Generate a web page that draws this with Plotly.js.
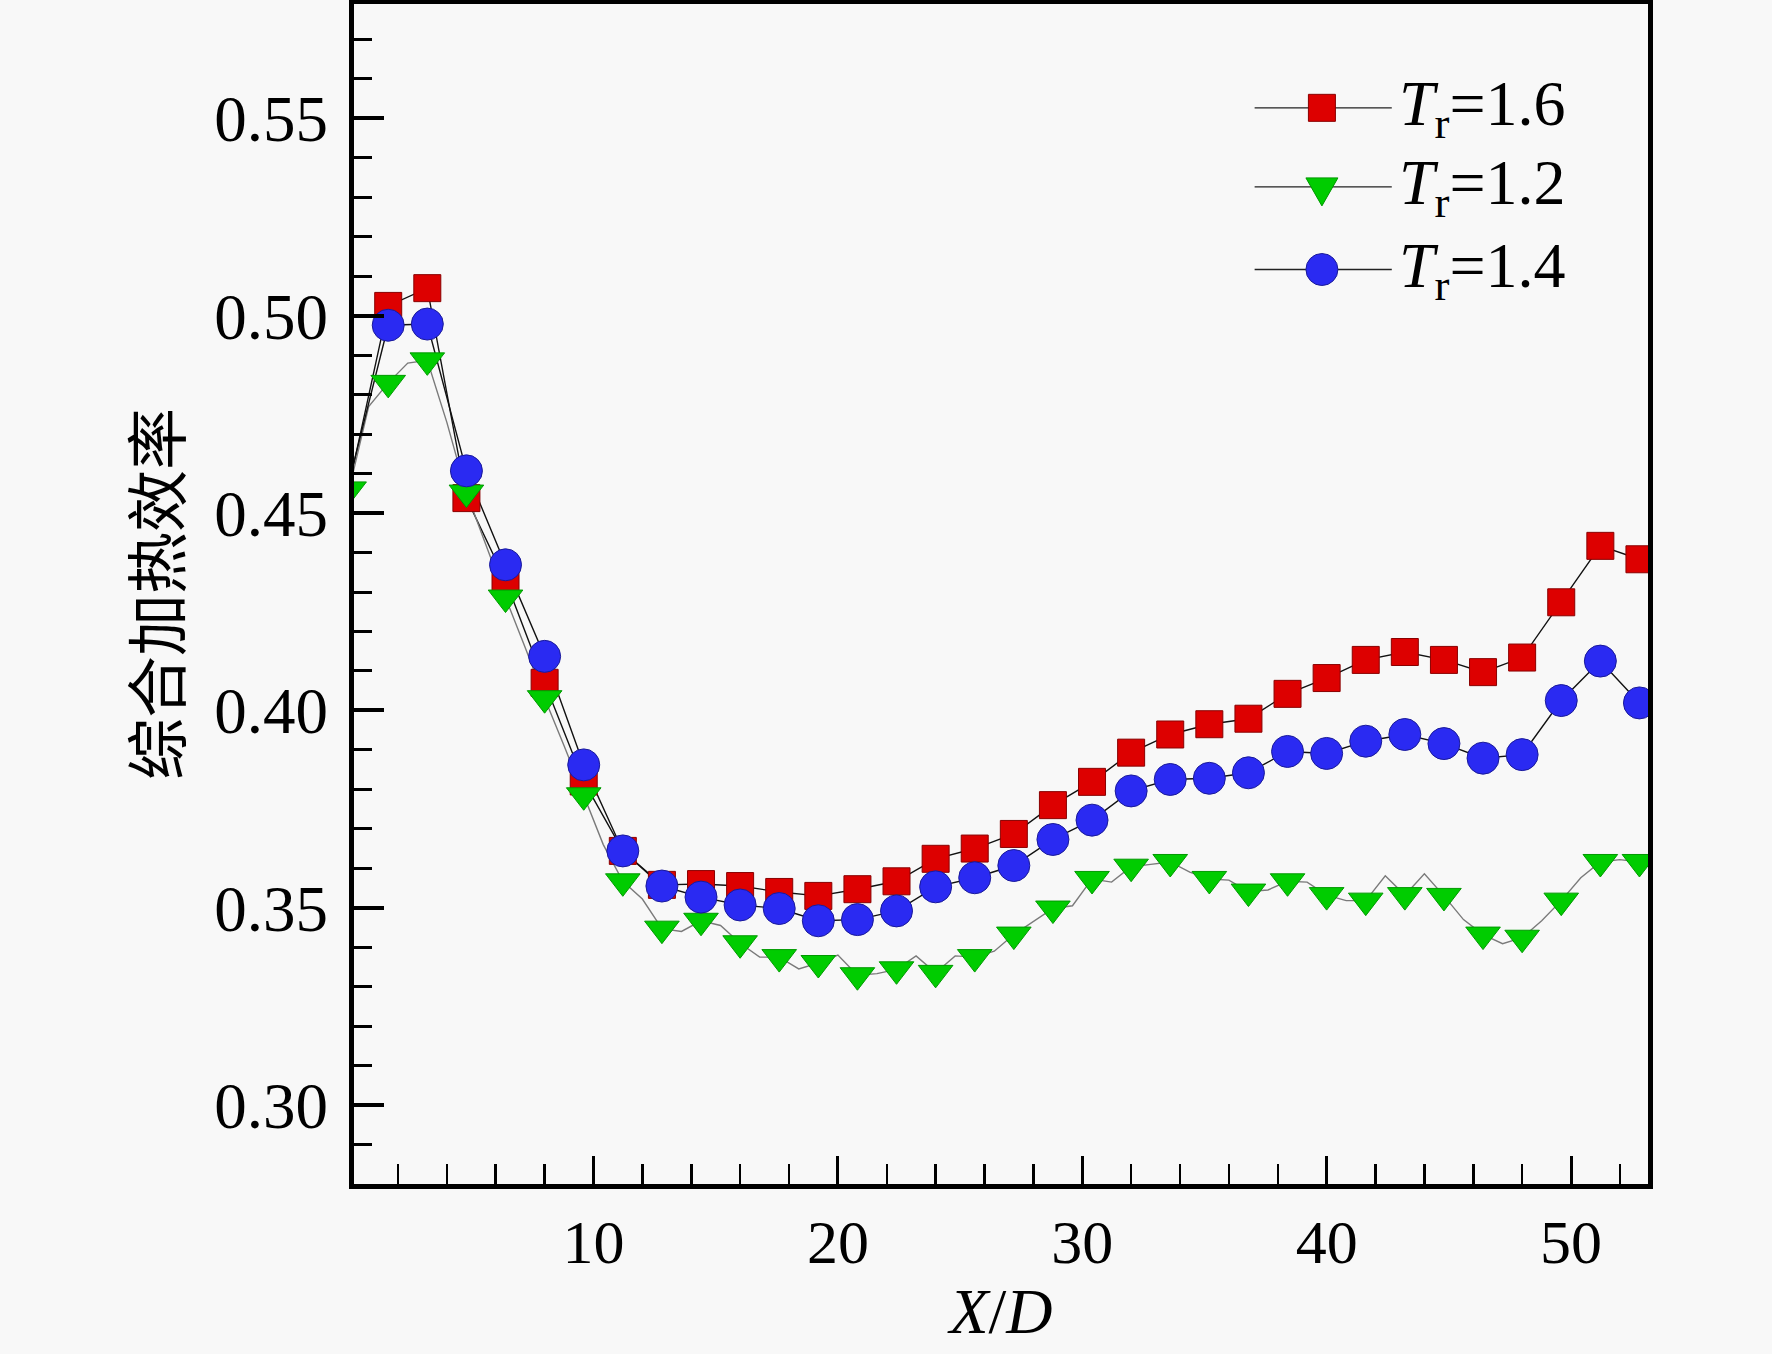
<!DOCTYPE html>
<html>
<head>
<meta charset="utf-8">
<script src="https://cdn.plot.ly/plotly-3.0.1.min.js"></script>
<style>
  html, body { margin: 0; padding: 0; background: #f8f8f8; }
  #plot { width: 1772px; height: 1354px; }
</style>
</head>
<body>
<div id="plot"></div>
<script>
///////////////////////////////////////////////  data  /////////////////////////////////////////////////////////

// X/D where the markers sit
var xMarkers = [1.6, 3.2, 4.8, 6.4, 8.0, 9.6, 11.2, 12.8, 14.4, 16.0, 17.6, 19.2, 20.8, 22.4, 24.0, 25.6,
                27.2, 28.8, 30.4, 32.0, 33.6, 35.2, 36.8, 38.4, 40.0, 41.6, 43.2, 44.8, 46.4, 48.0, 49.6, 51.2, 52.8];
// X/D of the in-between line points (green curve only shows them clearly)
var xMids = [0.8, 2.4, 4.0, 5.6, 7.2, 8.8, 10.4, 12.0, 13.6, 15.2, 16.8, 18.4, 20.0, 21.6, 23.2, 24.8,
             26.4, 28.0, 29.6, 31.2, 32.8, 34.4, 36.0, 37.6, 39.2, 40.8, 42.4, 44.0, 45.6, 47.2, 48.8, 50.4, 52.0];
var xStart = 0;

// Tr = 1.6
var redStart = 0.457;
var redY = [0.5025, 0.507, 0.4538, 0.433, 0.407, 0.382, 0.3644, 0.3558, 0.356, 0.3555, 0.354, 0.353, 0.3547,
            0.3567, 0.3624, 0.365, 0.3687, 0.376, 0.3819, 0.3893, 0.3939, 0.3965, 0.3979, 0.4042, 0.4082,
            0.4128, 0.4148, 0.4128, 0.4097, 0.4134, 0.4274, 0.4417, 0.4383];
// Tr = 1.2
var greenStart = 0.456;
var greenY = [0.483, 0.4887, 0.4552, 0.4286, 0.4031, 0.3785, 0.3567, 0.3447, 0.3467, 0.341, 0.3375, 0.336,
              0.3329, 0.3344, 0.3335, 0.3375, 0.3432, 0.3498, 0.3573, 0.3604, 0.3616, 0.3573, 0.3541, 0.3567,
              0.3532, 0.3518, 0.3532, 0.353, 0.3432, 0.3424, 0.3518, 0.3616, 0.3616];
var greenMidY = [0.477, 0.488, 0.473, 0.442, 0.416, 0.391, 0.366, 0.3522, 0.344, 0.3455, 0.3375, 0.3345,
                 0.338, 0.3333, 0.3378, 0.3378, 0.339, 0.3465, 0.3505, 0.3565, 0.361, 0.359, 0.357, 0.3545,
                 0.3565, 0.3518, 0.3581, 0.3586, 0.347, 0.3409, 0.3467, 0.3576, 0.3622];
// Tr = 1.4
var blueStart = 0.458;
var blueY = [0.4976, 0.4979, 0.4607, 0.4369, 0.4137, 0.3862, 0.3644, 0.3555, 0.3527, 0.3507, 0.3498, 0.3467,
             0.347, 0.3492, 0.3553, 0.3576, 0.3607, 0.3673, 0.3722, 0.3796, 0.3825, 0.3828, 0.3842, 0.3896,
             0.3891, 0.3922, 0.3939, 0.3916, 0.3879, 0.3888, 0.4025, 0.4125, 0.4019];

var legendLabels = ['<i>T</i><sub>r</sub>=1.6', '<i>T</i><sub>r</sub>=1.2', '<i>T</i><sub>r</sub>=1.4'];

///////////////////////////////////////////////  styles  /////////////////////////////////////////////////////////

var serif = 'Liberation Serif, Times New Roman, serif';
var red = '#dd0000', green = '#00cc00', blue = '#2a2af2';
var bg = '#f8f8f8';

///////////////////////////////////////////////  traces  /////////////////////////////////////////////////////////

function lineTrace(xs, ys, color) {
  return {x: xs, y: ys, mode: 'lines', type: 'scatter', showlegend: false, hoverinfo: 'skip',
          line: {color: color, width: 1.4}};
}

function markerTrace(xs, ys, symbol, size, color, edge) {
  return {x: xs, y: ys, mode: 'markers', type: 'scatter', showlegend: false,
          marker: {symbol: symbol, size: size, color: color, line: {color: edge, width: 1}}};
}

// green line runs through markers and mid points
var greenLineX = [xStart], greenLineY = [greenStart];
for (var i = 0; i < xMarkers.length; i++) {
  greenLineX.push(xMids[i], xMarkers[i]);
  greenLineY.push(greenMidY[i], greenY[i]);
}

var data = [
  lineTrace([xStart].concat(xMarkers), [redStart].concat(redY), '#111111'),
  lineTrace(greenLineX, greenLineY, '#7a7a7a'),
  lineTrace([xStart].concat(xMarkers), [blueStart].concat(blueY), '#111111'),
  markerTrace(xMarkers, redY, 'square', 27, red, '#8a0000'),
  markerTrace([xStart].concat(xMarkers), [greenStart].concat(greenY), 'triangle-down', 30, green, '#009900'),
  markerTrace(xMarkers, blueY, 'circle', 32, blue, '#1a1a9a')
];

///////////////////////////////////////////////  legend  /////////////////////////////////////////////////////////

var legendRows = [0.912, 0.845, 0.775];
var shapes = [], annotations = [];
legendRows.forEach(function (yr, k) {
  shapes.push({type: 'line', xref: 'paper', yref: 'paper', x0: 0.696, x1: 0.802, y0: yr, y1: yr,
               line: {color: '#222222', width: 1.4}});
  var common = {xref: 'paper', yref: 'paper', xsizemode: 'pixel', ysizemode: 'pixel',
                xanchor: 0.748, yanchor: yr};
  var s;
  if (k === 0) {
    s = Object.assign({type: 'rect', x0: -13.5, x1: 13.5, y0: -13.5, y1: 13.5,
                       fillcolor: red, line: {color: '#8a0000', width: 1}}, common);
  } else if (k === 1) {
    s = Object.assign({type: 'path', path: 'M-16,9L16,9L0,-19Z',
                       fillcolor: green, line: {color: '#009900', width: 1}}, common);
  } else {
    s = Object.assign({type: 'circle', x0: -16, x1: 16, y0: -16, y1: 16,
                       fillcolor: blue, line: {color: '#1a1a9a', width: 1}}, common);
  }
  shapes.push(s);
  annotations.push({text: legendLabels[k], xref: 'paper', yref: 'paper', x: 0.806, y: yr,
                    xanchor: 'left', yanchor: 'middle', showarrow: false,
                    font: {family: serif, size: 64, color: '#000'}});
});

///////////////////////////////////////////////  layout  /////////////////////////////////////////////////////////

var layout = {
  width: 1772, height: 1354,
  margin: {l: 354, r: 124, t: 4, b: 170, pad: 0},
  paper_bgcolor: bg, plot_bgcolor: bg,
  showlegend: false,
  font: {family: serif, color: '#000'},
  xaxis: {
    range: [0.2, 53.15], tickmode: 'linear', tick0: 0, dtick: 10,
    ticks: 'inside', ticklen: 28, tickwidth: 3, tickcolor: '#000',
    minor: {dtick: 2, ticks: 'inside', ticklen: 20, tickwidth: 2.5, tickcolor: '#000', showgrid: false},
    showline: true, linewidth: 5, linecolor: '#000', mirror: true,
    showgrid: false, zeroline: false,
    tickfont: {family: serif, size: 62},
    ticklabelstandoff: 0,
    title: {text: '<i>X</i>/<i>D</i>', font: {family: serif, size: 64}, standoff: 10}
  },
  yaxis: {
    range: [0.28, 0.579], tickmode: 'linear', tick0: 0, dtick: 0.05, tickformat: '.2f',
    ticks: 'inside', ticklen: 30, tickwidth: 4, tickcolor: '#000',
    minor: {dtick: 0.01, ticks: 'inside', ticklen: 18, tickwidth: 3, tickcolor: '#000', showgrid: false},
    showline: true, linewidth: 5, linecolor: '#000', mirror: true,
    showgrid: false, zeroline: false,
    tickfont: {family: serif, size: 65},
    ticklabelstandoff: 8,
    title: {text: '综合加热效率', font: {family: 'Noto Sans CJK SC, sans-serif', size: 62}, standoff: 14}
  },
  shapes: shapes,
  annotations: annotations
};

Plotly.newPlot('plot', data, layout, {displayModeBar: false, staticPlot: true});
</script>
</body>
</html>
